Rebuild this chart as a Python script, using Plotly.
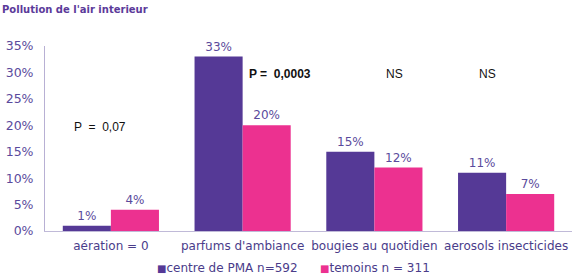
import plotly.graph_objects as go

categories = ["aération = 0", "parfums d'ambiance", "bougies au quotidien", "aerosols insecticides"]
pma = [1, 33, 15, 11]
temoins = [4, 20, 12, 7]
series_names = ["centre de PMA n=592", "temoins n = 311"]
tick_vals = [0, 5, 10, 15, 20, 25, 30, 35]
tick_text = ["0%", "5%", "10%", "15%", "20%", "25%", "30%", "35%"]
pvals = ["P  =  0,07", "<b>P =  0,0003</b>", "NS", "NS"]
pval_y = [19.7, 29.7, 29.7, 29.7]
pval_x = [-0.08, 1.28, 2.15, 2.855]

FONT = "DejaVu Sans"
PURPLE = "#553996"
PINK = "#EC3190"
LABEL = "#5A4A9C"
COLORS = [PURPLE, PINK]

fig = go.Figure()
for name, vals, col in zip(series_names, [pma, temoins], COLORS):
    fig.add_trace(go.Bar(x=categories, y=vals, name=name, marker_color=col,
                         marker_line_width=0, showlegend=False,
                         text=[f"{v}%" for v in vals], textposition="outside",
                         textfont=dict(color=LABEL, size=12, family=FONT), cliponaxis=False))

for t, xv, yv in zip(pvals, pval_x, pval_y):
    fig.add_annotation(x=xv, y=yv, xref="x", yref="y", text=t,
                       showarrow=False, font=dict(family="Liberation Sans", size=12, color="#111111"))

fig.add_annotation(x=-0.085, y=1.2, xref="paper", yref="paper", xanchor="left", yanchor="middle",
                   text="<b>Pollution de l'air interieur</b>", showarrow=False,
                   font=dict(family=FONT, size=10, color="#5B3A9A"))

# legend drawn as text keys
leg_x = [0.208, 0.518]
for name, col, lx in zip(series_names, COLORS, leg_x):
    fig.add_annotation(x=lx, y=-0.2, xref="paper", yref="paper", xanchor="left", yanchor="middle",
                       text=f"<span style='color:{col};font-size:10px'>■</span>{name}",
                       showarrow=False, font=dict(family=FONT, size=12, color="#4A3C8A"))

fig.update_layout(
    width=572, height=274,
    margin=dict(l=45, r=0, t=46, b=43, autoexpand=False),
    paper_bgcolor="white", plot_bgcolor="white",
    barmode="group", bargap=0.27, bargroupgap=0,
    font=dict(family=FONT, size=12, color=LABEL),
    showlegend=False,
    xaxis=dict(range=[-0.5, 3.5], showline=True, linecolor="#C0BAD8", linewidth=1,
               ticks="", showgrid=False, automargin=False, ticklabelstandoff=4,
               tickfont=dict(family=FONT, size=12, color="#4A3C8A")),
    yaxis=dict(range=[0, 35], tickvals=tick_vals, ticktext=tick_text, showline=True,
               linecolor="#B8B0D4", linewidth=1, ticks="", showgrid=False, zeroline=False,
               automargin=False, ticklabelstandoff=8,
               tickfont=dict(family=FONT, size=12.5, color=LABEL)),
)

fig.write_html("out.html")
